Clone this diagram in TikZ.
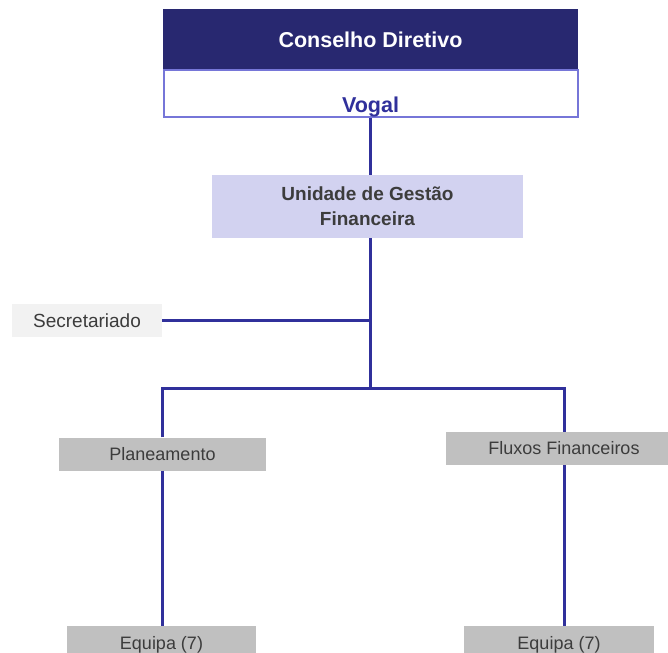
\documentclass[tikz,border=0pt]{standalone}
\usepackage{fontspec}
\setmainfont{Liberation Sans}
\definecolor{navy}{RGB}{40,40,112}
\definecolor{rim}{RGB}{118,118,216}
\definecolor{wire}{RGB}{48,48,155}
\definecolor{lilac}{RGB}{210,210,240}
\definecolor{ink}{RGB}{60,60,60}
\definecolor{paper}{RGB}{242,242,242}
\definecolor{stone}{RGB}{192,192,192}
\usetikzlibrary{positioning}

\begin{document}
\begin{tikzpicture}[x=1pt,y=-1pt,
    every node/.style={inner sep=0pt,text=ink},
    headbox/.style={fill=navy,text=white,font=\fontsize{21.5}{25}\selectfont\bfseries,
      minimum width=415pt,minimum height=61pt},
    rolebox/.style={draw=rim,line width=2pt,fill=white,text=wire,
      font=\fontsize{21.5}{25}\selectfont\bfseries,minimum width=414pt,minimum height=47pt,
      text height=42pt,text depth=4pt},
    unitbox/.style={fill=lilac,font=\fontsize{19}{25}\selectfont\bfseries,align=center,
      minimum width=311pt,minimum height=63pt},
    secbox/.style={fill=paper,font=\fontsize{19}{22}\selectfont,minimum width=150pt,minimum height=33pt},
    areabox/.style={fill=stone,font=\fontsize{18}{21}\selectfont,minimum height=33pt},
    link/.style={draw=wire,line width=3pt}]
  \useasboundingbox (0,0) rectangle (668,652);

  % top of the chart
  \node[headbox] (board) at (370.5,39.5) {Conselho Diretivo};
  \node[rolebox] (vogal) at (370.5,94) {Vogal};
  \node[unitbox] (unit) at (367.5,206.5) {Unidade de Gestão\\Financeira};
  \node[secbox] (sec) at (87,320.5) {Secretariado};

  % the two areas and their teams
  \node[areabox,minimum width=207pt] (plan) at (162.5,454) {Planeamento};
  \node[areabox,minimum width=236pt] (flux) at (564,448.5) {Fluxos Financeiros};
  \node[areabox,minimum width=189pt,minimum height=38pt] (teamA) at (161.5,645) {Equipa (7)};
  \node[areabox,minimum width=190pt,minimum height=38pt] (teamB) at (559,645) {Equipa (7)};

  \coordinate (hub) at (370,388);

  \draw[link] (vogal.south -| hub) -- (unit.north -| hub);
  \draw[link] (unit.south -| hub) -- (hub);
  \draw[link] (sec.east) -- (sec.east -| hub);
  \draw[link] (plan.north) |- (hub) -| (flux.north);
  \draw[link] (plan.south) -- (plan.south |- teamA.north);
  \draw[link] (flux.south) -- (flux.south |- teamB.north);
\end{tikzpicture}
\end{document}
